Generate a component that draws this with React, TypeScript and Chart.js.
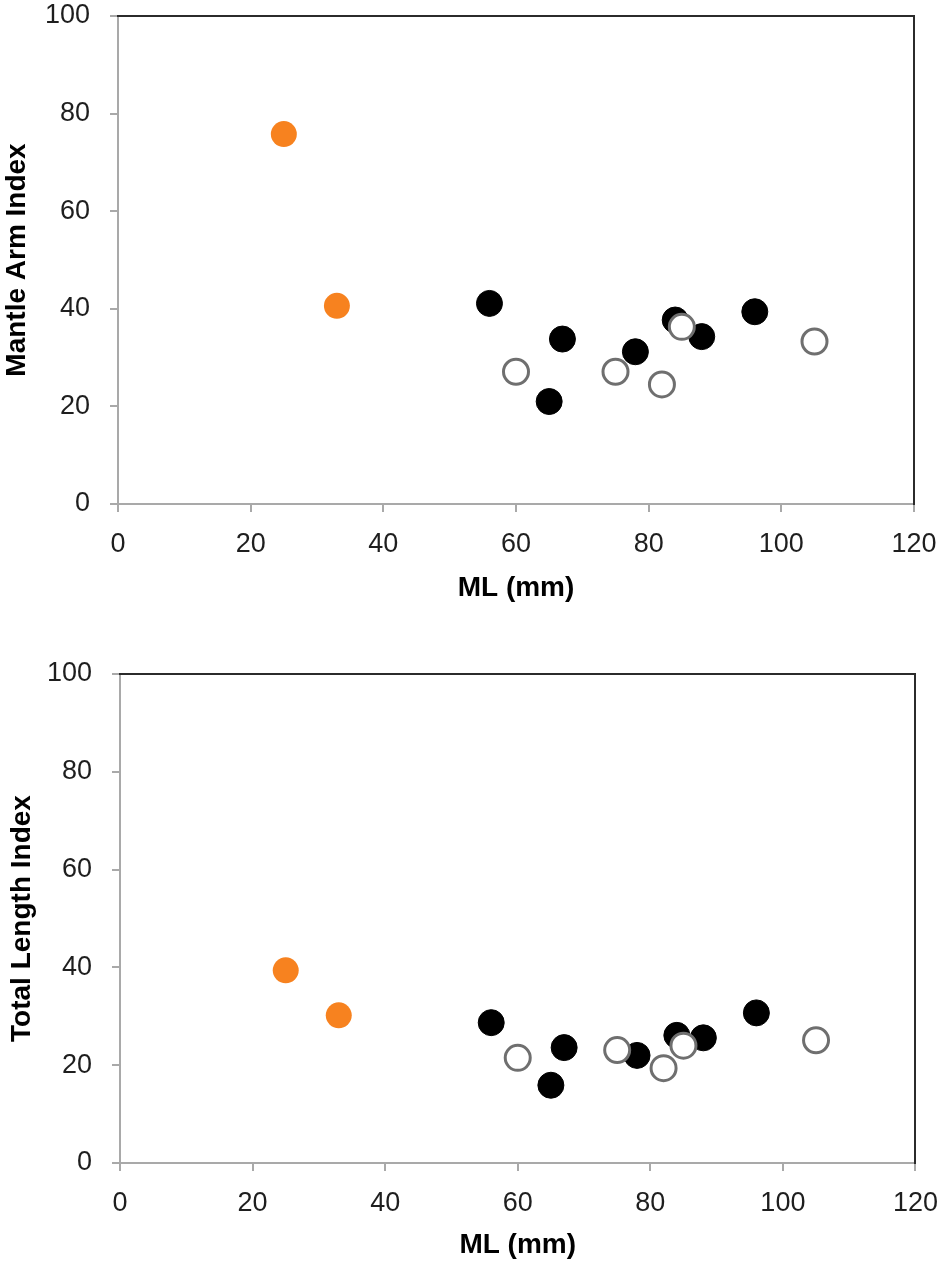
import { useEffect, useRef } from "react";
import { Chart, registerables } from "chart.js";

Chart.register(...registerables);

// ML (mm) for each group
const mlOrange = [25, 33];
const mlFilled = [56, 65, 67, 78, 84, 88, 96];
const mlOpen = [60, 75, 82, 85, 105];

// Mantle Arm Index
const armOrange = [75.8, 40.6];
const armFilled = [41.1, 21.0, 33.8, 31.2, 37.7, 34.3, 39.4];
const armOpen = [27.1, 27.1, 24.5, 36.3, 33.3];

// Total Length Index
const lenOrange = [39.4, 30.2];
const lenFilled = [28.7, 15.9, 23.6, 22.0, 26.1, 25.6, 30.7];
const lenOpen = [21.5, 23.1, 19.4, 24.0, 25.1];

const xTicks = [0, 20, 40, 60, 80, 100, 120];
const yTicks = [0, 20, 40, 60, 80, 100];

const FONT = "'Liberation Sans', Arial, Helvetica, sans-serif";
const AXIS_GREY = "#a9a9a9";
const FRAME = "#2b2b2b";

const pts = (xs: number[], ys: number[]) => xs.map((x, i) => ({ x, y: ys[i] }));

type PlotProps = {
  yTitle: string;
  orange: number[];
  filled: number[];
  open: number[];
  top: number; // page offset of the canvas
  height: number;
  padTop: number;
  right: number;
  yWidth: number;
  xHeight: number;
  xTitlePad: number;
  yTitlePad: number;
};

function Plot(p: PlotProps) {
  const ref = useRef<HTMLCanvasElement>(null);

  useEffect(() => {
    if (!ref.current) return;
    const tickFont = { family: FONT, size: 27 };
    // taller line box pushes the x labels down without widening the side padding
    const xTickFont = { family: FONT, size: 27, lineHeight: 1.5 };
    const titleFont = { family: FONT, size: 28, weight: "bold" as const };
    const chart = new Chart(ref.current, {
      type: "scatter",
      data: {
        datasets: [
          {
            label: "orange",
            data: pts(mlOrange, p.orange),
            backgroundColor: "#f7821f",
            borderColor: "#f7821f",
            borderWidth: 0,
            pointRadius: 13,
          },
          {
            label: "open",
            data: pts(mlOpen, p.open),
            backgroundColor: "#ffffff",
            borderColor: "#6f6f6f",
            borderWidth: 3,
            pointRadius: 12.5,
          },
          {
            label: "filled",
            data: pts(mlFilled, p.filled),
            backgroundColor: "#000000",
            borderColor: "#000000",
            borderWidth: 1,
            pointRadius: 13,
          },
        ],
      },
      options: {
        responsive: false,
        animation: false,
        layout: { padding: { top: p.padTop, right: 950 - p.right, left: 0, bottom: 0 } },
        plugins: { legend: { display: false }, tooltip: { enabled: false } },
        scales: {
          x: {
            type: "linear",
            position: "bottom",
            min: 0,
            max: 120,
            afterBuildTicks: (s: any) => {
              s.ticks = xTicks.map((v) => ({ value: v }));
            },
            ticks: { font: xTickFont, color: "#1e1e1e", padding: 12, maxRotation: 0 },
            grid: { drawOnChartArea: false, tickLength: 8, color: AXIS_GREY, lineWidth: 2 },
            border: { color: AXIS_GREY, width: 2 },
            title: {
              display: true,
              text: "ML (mm)",
              font: titleFont,
              color: "#000",
              padding: { top: 0, bottom: p.xTitlePad },
            },
            afterFit: (s: any) => {
              s.height = p.xHeight;
            },
          },
          y: {
            type: "linear",
            position: "left",
            min: 0,
            max: 100,
            afterBuildTicks: (s: any) => {
              s.ticks = yTicks.map((v) => ({ value: v }));
            },
            ticks: { font: tickFont, color: "#1e1e1e", padding: 20 },
            grid: { drawOnChartArea: false, tickLength: 8, color: AXIS_GREY, lineWidth: 2 },
            border: { color: AXIS_GREY, width: 2 },
            title: {
              display: true,
              text: p.yTitle,
              font: titleFont,
              color: "#000",
              padding: { top: p.yTitlePad, bottom: 0 },
            },
            afterFit: (s: any) => {
              s.width = p.yWidth;
            },
          },
          x2: {
            type: "linear",
            position: "top",
            min: 0,
            max: 120,
            ticks: { display: false },
            grid: { drawOnChartArea: false, drawTicks: false },
            border: { color: FRAME, width: 2 },
            afterFit: (s: any) => {
              s.height = 0;
            },
          },
          y2: {
            type: "linear",
            position: "right",
            min: 0,
            max: 100,
            ticks: { display: false },
            grid: { drawOnChartArea: false, drawTicks: false },
            border: { color: FRAME, width: 2 },
            afterFit: (s: any) => {
              s.width = 0;
            },
          },
        },
      },
    });
    return () => chart.destroy();
  }, []);

  return (
    <canvas
      ref={ref}
      width={950}
      height={p.height}
      style={{ position: "absolute", left: 0, top: p.top, width: 950, height: p.height }}
    />
  );
}

export default function App() {
  return (
    <div
      style={{
        position: "absolute",
        left: 0,
        top: 0,
        width: 950,
        height: 1270,
        overflow: "hidden",
        background: "#fff",
      }}
    >
      <Plot
        yTitle="Mantle Arm Index"
        orange={armOrange}
        filled={armFilled}
        open={armOpen}
        top={-24}
        height={659}
        padTop={40}
        right={914}
        yWidth={118}
        xHeight={131}
        xTitlePad={30}
        yTitlePad={0}
      />
      <Plot
        yTitle="Total Length Index"
        orange={lenOrange}
        filled={lenFilled}
        open={lenOpen}
        top={635}
        height={635}
        padTop={39}
        right={916}
        yWidth={120}
        xHeight={107}
        xTitlePad={8}
        yTitlePad={5}
      />
    </div>
  );
}
